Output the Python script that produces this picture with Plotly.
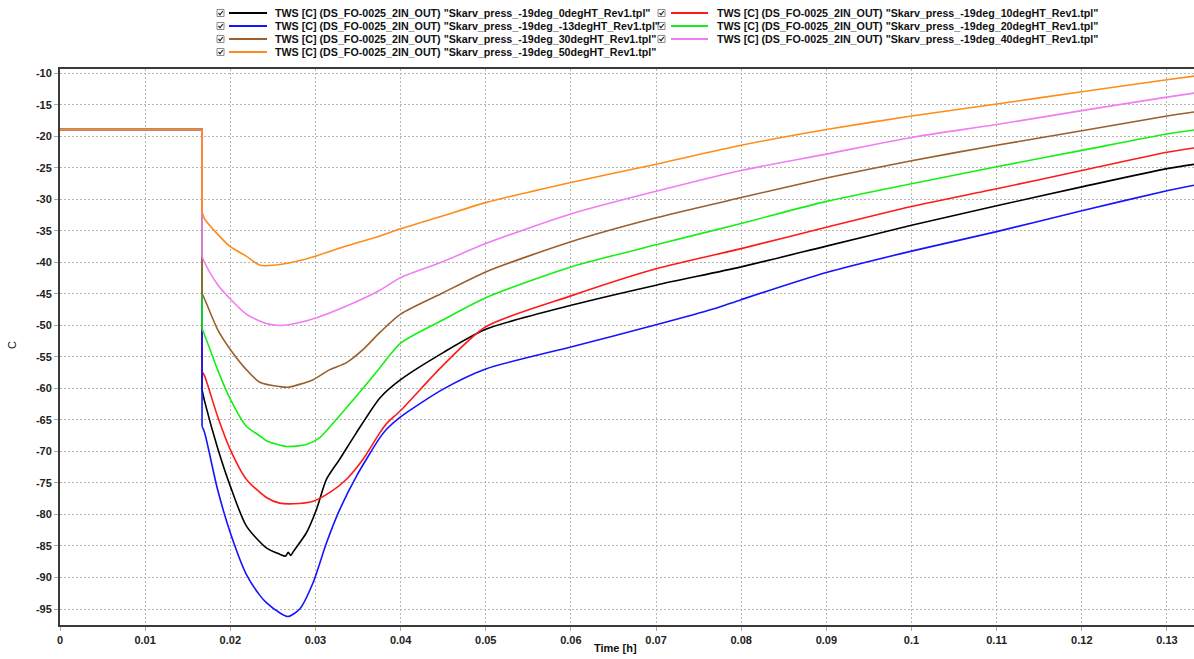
import plotly.graph_objects as go

# --- data -------------------------------------------------------------
INITIAL_TEMP = -18.9      # C, before blowdown
T_START = 0.01668         # h, blowdown start

PREFIX = 'TWS [C] (DS_FO-0025_2IN_OUT) "Skarv_press_-19deg_'
SUFFIX = '_Rev1.tpl"'

case_tags = ["0degHT", "10degHT", "-13degHT", "20degHT", "30degHT", "40degHT", "50degHT"]

t_0deg = [0.01668, 0.01698, 0.0185, 0.0200, 0.02188, 0.02424, 0.0258, 0.0265, 0.0268, 0.0271,
          0.0274, 0.02894, 0.03012, 0.0313, 0.03286, 0.03482, 0.03757, 0.0400, 0.0450, 0.0500,
          0.0600, 0.0700, 0.0800, 0.0900, 0.1000, 0.1100, 0.1200, 0.1300, 0.1333]
v_0deg = [-60.2, -62.0, -69.4, -75.5, -81.8, -85.3, -86.3, -86.6, -86.0, -86.5,
          -85.9, -82.9, -79.2, -74.4, -71.2, -67.0, -61.5, -58.6, -54.3, -50.6,
          -46.8, -43.6, -40.7, -37.4, -34.1, -31.0, -28.0, -25.1, -24.4]

t_10deg = [0.01668, 0.01698, 0.0185, 0.0200, 0.02188, 0.02424, 0.0258, 0.02737, 0.02973, 0.03169,
           0.03365, 0.03561, 0.03757, 0.0384, 0.0400, 0.0450, 0.0500, 0.0600, 0.0700, 0.0800,
           0.0900, 0.1000, 0.1100, 0.1200, 0.1300, 0.1333]
v_10deg = [-57.3, -58.0, -64.4, -69.7, -74.4, -77.3, -78.2, -78.3, -77.9, -76.5,
           -74.4, -71.2, -67.0, -65.5, -63.5, -56.3, -50.2, -45.3, -41.0, -37.8,
           -34.4, -31.1, -28.3, -25.4, -22.5, -21.8]

t_m13deg = [0.01668, 0.01698, 0.0185, 0.0200, 0.02188, 0.02345, 0.02424, 0.0258, 0.02678, 0.02816,
            0.02973, 0.0313, 0.03286, 0.03482, 0.03757, 0.0384, 0.0400, 0.0450, 0.0500, 0.0600,
            0.0700, 0.0767, 0.0800, 0.0900, 0.1000, 0.1100, 0.1200, 0.1300, 0.1333]
v_m13deg = [-66.0, -67.0, -76.0, -82.9, -89.5, -92.8, -94.0, -95.6, -96.2, -95.0,
            -90.8, -84.5, -79.2, -73.9, -67.8, -66.4, -64.5, -60.1, -56.9, -53.4,
            -49.9, -47.4, -45.9, -41.6, -38.2, -35.1, -31.8, -28.6, -27.7]

t_20deg = [0.01668, 0.01698, 0.0185, 0.0200, 0.02188, 0.02345, 0.02424, 0.02659, 0.02894, 0.03051,
           0.03227, 0.03482, 0.03757, 0.0400, 0.0450, 0.0500, 0.0600, 0.0700, 0.0800, 0.0900,
           0.1000, 0.1100, 0.1200, 0.1300, 0.1333]
v_20deg = [-50.5, -51.5, -57.0, -61.7, -66.0, -67.5, -68.3, -69.2, -68.9, -67.8,
           -65.2, -61.2, -56.7, -52.8, -49.1, -45.6, -40.7, -37.2, -33.8, -30.3,
           -27.5, -24.8, -22.2, -19.6, -18.95]

t_30deg = [0.01668, 0.01698, 0.0185, 0.0200, 0.02188, 0.02345, 0.0258, 0.02678, 0.02973, 0.03169,
           0.03365, 0.03561, 0.03757, 0.0400, 0.0450, 0.0500, 0.0600, 0.0700, 0.0800, 0.0900,
           0.1000, 0.1100, 0.1200, 0.1300, 0.1333]
v_30deg = [-45.0, -45.8, -50.6, -53.8, -57.0, -59.0, -59.7, -59.8, -58.6, -57.0,
           -55.9, -53.8, -51.1, -48.2, -44.8, -41.5, -36.7, -32.9, -29.7, -26.6,
           -23.85, -21.4, -19.1, -16.75, -16.1]

t_40deg = [0.01668, 0.01698, 0.0185, 0.0200, 0.02188, 0.02424, 0.0258, 0.02776, 0.03004, 0.03365,
           0.03757, 0.0400, 0.0450, 0.0500, 0.0600, 0.0700, 0.0800, 0.0900, 0.1000, 0.1100,
           0.1200, 0.1300, 0.1333]
v_40deg = [-39.0, -40.0, -43.5, -45.8, -48.2, -49.7, -50.0, -49.65, -48.8, -46.9,
           -44.4, -42.4, -39.85, -37.0, -32.3, -28.7, -25.4, -22.8, -20.15, -18.1,
           -15.9, -13.75, -13.1]

t_50deg = [0.01668, 0.01698, 0.0185, 0.0200, 0.02188, 0.0235, 0.0254, 0.0278, 0.0300, 0.0336,
           0.0376, 0.0400, 0.0450, 0.0500, 0.0600, 0.0700, 0.0800, 0.0900, 0.1000, 0.1100,
           0.1200, 0.1300, 0.1333]
v_50deg = [-32.0, -33.1, -35.5, -37.5, -39.0, -40.45, -40.4, -39.8, -39.0, -37.4,
           -35.8, -34.65, -32.6, -30.5, -27.3, -24.4, -21.4, -18.9, -16.75, -14.85,
           -12.9, -11.0, -10.4]

x_ticks = [0, 0.01, 0.02, 0.03, 0.04, 0.05, 0.06, 0.07, 0.08, 0.09, 0.10, 0.11, 0.12, 0.13]
x_tick_text = ["0", "0.01", "0.02", "0.03", "0.04", "0.05", "0.06", "0.07", "0.08", "0.09",
               "0.1", "0.11", "0.12", "0.13"]
y_ticks = [-10, -15, -20, -25, -30, -35, -40, -45, -50, -55, -60, -65, -70, -75, -80, -85, -90, -95]
y_tick_text = [str(v) for v in y_ticks]

series_t = [t_0deg, t_10deg, t_m13deg, t_20deg, t_30deg, t_40deg, t_50deg]
series_v = [v_0deg, v_10deg, v_m13deg, v_20deg, v_30deg, v_40deg, v_50deg]
colors = ["#000000", "#ff1a1a", "#1414ff", "#14f014", "#9a5f2c", "#f07ef0", "#ff8c1a"]

# --- figure -----------------------------------------------------------
W, H = 1194, 659
ML, MR, MT, MB = 60, 0, 69, 34
PW, PH = W - ML - MR, H - MT - MB


def px(x):
    return (x - ML) / PW


def py(y):
    return (H - MB - y) / PH


fig = go.Figure()
for tag, t, v, c in zip(case_tags, series_t, series_v, colors):
    name = PREFIX + tag + SUFFIX
    # constant start temperature and the sudden drop at blowdown start
    fig.add_trace(go.Scatter(
        x=[0.0, T_START, t[0]],
        y=[INITIAL_TEMP, INITIAL_TEMP, v[0]],
        mode="lines", line=dict(color=c, width=1.6),
        name=name, showlegend=False, legendgroup=tag,
    ))
    # cooling and recovery after the drop
    fig.add_trace(go.Scatter(
        x=t, y=v,
        mode="lines", line=dict(color=c, width=1.6, shape="spline", smoothing=0.7),
        name=name, showlegend=False, legendgroup=tag,
    ))

# legend drawn as two columns of (checkbox, line sample, label)
shapes = []
annotations = []
rows_y = [13, 26, 39, 52]
cols = [dict(box=217, l0=229, l1=267, txt=273), dict(box=658, l0=671, l1=708, txt=715)]
label_font = dict(family="Liberation Sans", size=10.7, color="#111111", weight="bold")
for i, (tag, c) in enumerate(zip(case_tags, colors)):
    r, k = divmod(i, 2)
    col = cols[k]
    yc = rows_y[r]
    bx = col["box"]
    shapes.append(dict(type="rect", xref="paper", yref="paper",
                       x0=px(bx), x1=px(bx + 7), y0=py(yc - 3.5), y1=py(yc + 3.5),
                       line=dict(color="#8a8a8a", width=1), fillcolor="white"))
    shapes.append(dict(type="path", xref="paper", yref="paper",
                       path=f"M {px(bx + 1.5)},{py(yc)} L {px(bx + 3)},{py(yc + 1.8)} L {px(bx + 5.8)},{py(yc - 2)}",
                       line=dict(color="#222222", width=1.2)))
    shapes.append(dict(type="line", xref="paper", yref="paper",
                       x0=px(col["l0"]), x1=px(col["l1"]), y0=py(yc), y1=py(yc),
                       line=dict(color=c, width=2)))
    annotations.append(dict(xref="paper", yref="paper", x=px(col["txt"]), y=py(yc),
                            xanchor="left", yanchor="middle", showarrow=False,
                            text=PREFIX + tag + SUFFIX, font=label_font))

# axis titles
annotations.append(dict(xref="paper", yref="paper", x=px(615), y=py(648),
                        xanchor="center", yanchor="middle", showarrow=False, text="Time [h]",
                        font=dict(family="Liberation Sans", size=11, color="#111111", weight="bold")))
annotations.append(dict(xref="paper", yref="paper", x=px(12), y=py(345),
                        xanchor="center", yanchor="middle", showarrow=False, text="C", textangle=-90,
                        font=dict(family="Liberation Sans", size=11, color="#111111")))

tick_font = dict(family="Liberation Sans", size=11, color="#222222", weight="bold")
grid_style = dict(showgrid=True, gridcolor="#b5b5b5", gridwidth=1, griddash="2px,2px",
                  zeroline=False, ticks="outside", ticklen=4, tickcolor="#aaaaaa",
                  showline=True, linecolor="#3a3a3a", linewidth=2, tickfont=tick_font,
                  automargin=False)

fig.update_layout(
    width=W, height=H,
    margin=dict(l=ML, r=MR, t=MT, b=MB),
    paper_bgcolor="white", plot_bgcolor="white",
    xaxis=dict(range=[0, PW / 8515], tickvals=x_ticks, ticktext=x_tick_text,
               mirror=True, **grid_style),
    yaxis=dict(range=[-97.54, -9.29], tickvals=y_ticks, ticktext=y_tick_text, **grid_style),
    shapes=shapes,
    annotations=annotations,
)

fig.write_html("out.html")
